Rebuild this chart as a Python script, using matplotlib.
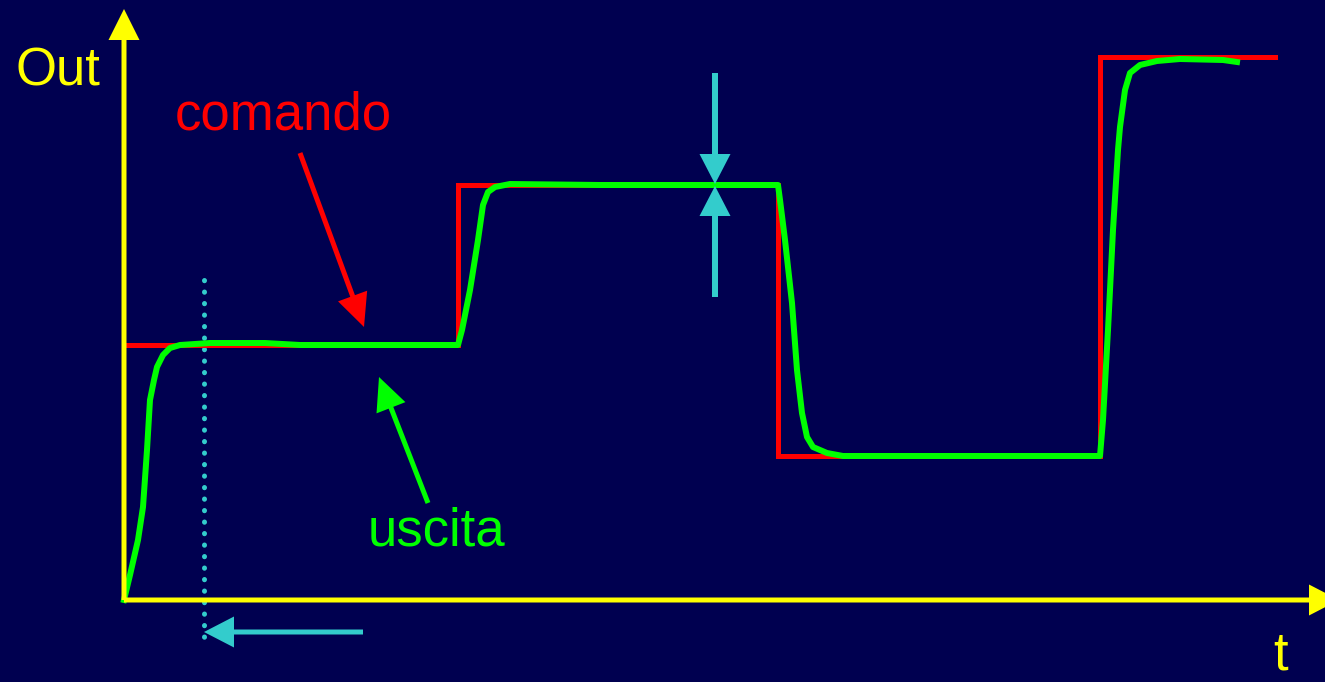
import matplotlib
matplotlib.use("Agg")
import matplotlib.pyplot as plt

# units: time / output, origin at the axes corner
cmd_t = [0, 334, 334, 654, 654, 976, 976, 1151]
cmd_y = [255, 255, 415, 415, 144, 144, 543, 543]

out_t = [0, 6, 14, 19, 23, 26, 30, 33, 39, 46, 56, 86, 141, 176, 334,
         338, 346, 354, 359, 364, 371, 386, 476, 654,
         656, 661, 668, 673, 678, 683, 689, 703, 719, 976,
         979, 984, 989, 994, 996, 1001, 1006, 1016, 1033, 1056, 1099, 1113]
out_y = [0, 25, 60, 93, 150, 200, 220, 233, 245, 252, 255, 257, 257, 255, 255,
         270, 310, 360, 395, 408, 413, 416, 415, 415,
         400, 360, 297, 230, 187, 163, 153, 147, 144, 144,
         180, 270, 370, 450, 473, 510, 527, 535, 539, 541, 540, 538]

BG = "#000050"
YEL = "#ffff00"
RED = "#ff0000"
GRN = "#00ff00"
CYA = "#33cccc"
PX = 0.72  # points per pixel at dpi 100

fig = plt.figure(figsize=(13.25, 6.82), dpi=100, facecolor=BG)
ax = fig.add_axes([0, 0, 1, 1])
ax.set_facecolor(BG)
ax.set_xlim(-124, 1201)
ax.set_ylim(-82, 600)
ax.axis("off")

# signals
ax.plot(cmd_t, cmd_y, color=RED, lw=5 * PX, solid_joinstyle="miter", zorder=3)
ax.plot(out_t, out_y, color=GRN, lw=6 * PX, solid_joinstyle="round", zorder=4)

# axes with arrow heads
ax.arrow(0, 0, 0, 591, width=5, head_width=31, head_length=31,
         length_includes_head=True, color=YEL, lw=0, zorder=5)
ax.arrow(0, 0, 1215, 0, width=5, head_width=31, head_length=30,
         length_includes_head=True, color=YEL, lw=0, zorder=5)

# pointer arrows for labels
ax.arrow(176, 447, 64, -174, width=5, head_width=31, head_length=33,
         length_includes_head=True, color=RED, lw=0, zorder=6)
ax.arrow(304, 97, -49, 126, width=5, head_width=31, head_length=33,
         length_includes_head=True, color=GRN, lw=0, zorder=6)

# cyan marks
ax.plot([80, 80], [320, -40], color=CYA, lw=5 * PX,
        linestyle=(0, (0.05, 2.25)), dash_capstyle="round", zorder=2)
ax.arrow(239, -32, -159, 0, width=5, head_width=31, head_length=30,
         length_includes_head=True, color=CYA, lw=0, zorder=6)
ax.arrow(591, 527, 0, -111, width=6, head_width=31, head_length=30,
         length_includes_head=True, color=CYA, lw=0, zorder=6)
ax.arrow(591, 303, 0, 111, width=6, head_width=31, head_length=30,
         length_includes_head=True, color=CYA, lw=0, zorder=6)

# labels
font = dict(family=["Liberation Sans", "DejaVu Sans"], size=38,
            ha="left", va="baseline")
ax.text(-109, 515, "Out", color=YEL, **font)
ax.text(51, 470, "comando", color=RED, **font)
ax.text(244, 55, "uscita", color=GRN, **font)
ax.text(1149, -70, "t", color=YEL, **font)

fig.savefig("out.png", dpi=100, facecolor=BG)
